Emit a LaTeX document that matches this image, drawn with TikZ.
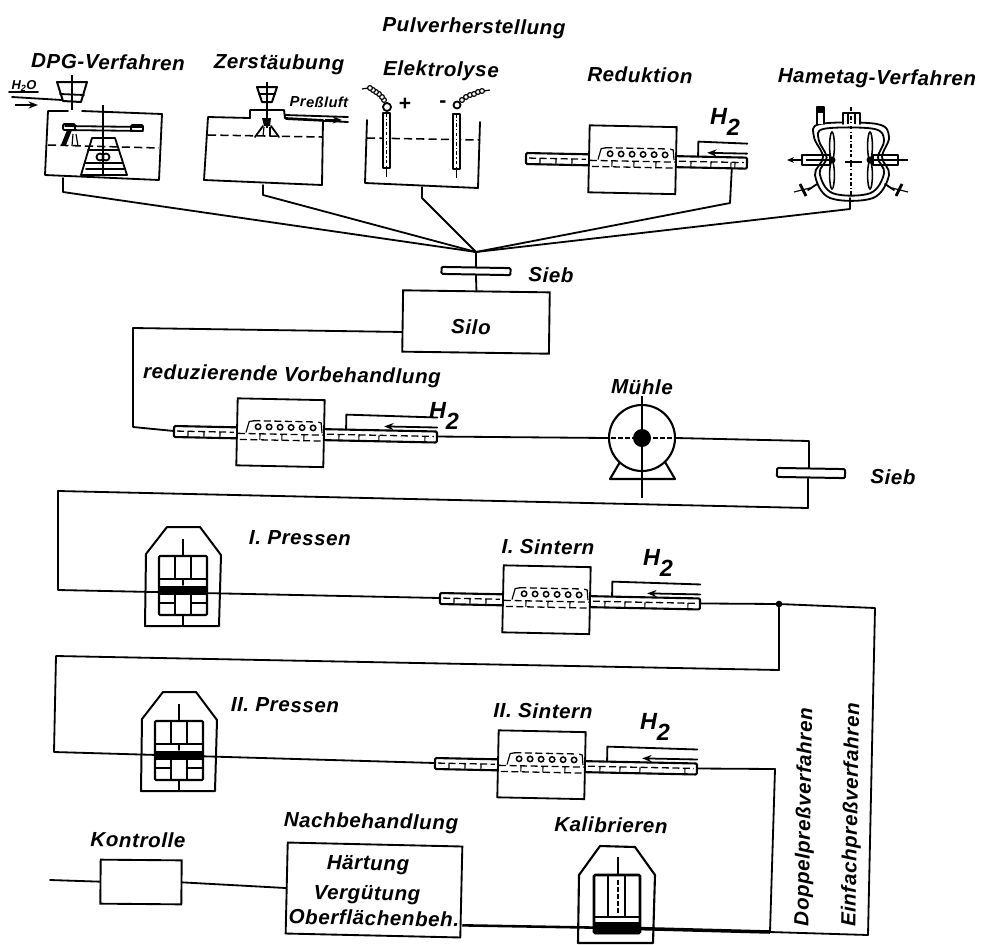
\documentclass[tikz,border=0pt]{standalone}
\usepackage{fontspec}
\setmainfont[LetterSpace=3]{Liberation Sans}
\usetikzlibrary{arrows.meta,calc}
\tikzset{
  x=0.03cm,y=-0.03cm,
  ln/.style={line width=1.55pt,line join=round,line cap=round},
  thn/.style={line width=1pt},
  dsh/.style={line width=1.3pt,dash pattern=on 7pt off 3.5pt},
  tubedash/.style={line width=1.1pt,dash pattern=on 6pt off 3pt},
  lab/.style={font=\bfseries\itshape\fontsize{17.5}{20}\selectfont,inner sep=0pt,rotate=-1},
  hlab/.style={font=\bfseries\itshape\fontsize{20}{22}\selectfont,inner sep=0pt},
  vlab/.style={font=\bfseries\itshape\fontsize{17.5}{20}\selectfont,inner sep=0pt,rotate=89},
  box/.style={draw,line width=1.55pt,inner sep=0pt,fill=white,transform shape},
  flow/.style={draw,line width=1.6pt,inner sep=0pt,fill=white},
  sieve/.style={draw,line width=1.7pt,rounded corners=1pt,inner sep=0pt,fill=white,rotate=-1},
  arr/.style={line width=1.5pt,-{Stealth[length=8pt,width=6pt]}},
}
\newcommand{\hh}{H\raisebox{-0.45em}{2}}
% name, x, y (left end of the tube), length, arrow head x, arrow tail x (local)
\newcommand{\furnace}[6]{%
\begin{scope}[shift={(#2,#3)},rotate=-1.2]
  \coordinate (#1in) at (0,0);
  \coordinate (#1out) at (#4,0);
  \coordinate (#1low) at (#4-15,6);
  \draw[ln,line width=1.8pt,rounded corners=1pt] (63,-5) -- (0,-5) -- (0,6) -- (63,6);
  \draw[ln,line width=1.8pt,rounded corners=1pt] (150,-5) -- (#4,-5) -- (#4,6) -- (150,6);
  \draw[tubedash] (3,0) -- (60,0);
  \draw[tubedash] (153,0) -- (#4-3,0);
  \foreach \t in {14,30,46} \draw[thn] (\t,0) -- (\t,6);
  \foreach \t in {165,185,205,#4-12} \draw[thn] (\t,0) -- (\t,6);
  \node[box,minimum width=2.61cm,minimum height=2.01cm] (#1box) at (106.5,-0.5) {};
  \draw[tubedash] (64,1) -- (149,1);
  \draw[tubedash] (66,7) -- (147,7);
  \draw[tubedash] (79,-12) -- (142,-12);
  \draw[thn] (72,0) -- (75,-11) -- (80,-12);
  \draw[thn] (144,-12) -- (147,-11) -- (148,-1);
  \foreach \t in {84,95,106,117,128,139} \draw[line width=1.3pt] (\t,-6) circle (2.7);
  \foreach \t in {86,108,130} \draw[thn] (\t,1) -- (\t,7);
  \draw[ln] (172,-5) -- (172,-20) -- (#4,-19);
  \draw[arr] (#6,-9) -- (#5,-9);
  \draw[ln] (#6,-9) -- (#4,-9);
\end{scope}}
% name, x, y of the top left corner of the roof
\newcommand{\pressbody}[3]{%
\begin{scope}[shift={(#2,#3)}]
  \coordinate (#1axis) at (16,0);
  \draw[ln,line width=1.7pt] (-22,99) -- (-21,27) -- (0,0) -- (33,0) -- (54,28) -- (52,99) -- cycle;
  \draw[thn] (16,12) -- (16,29);
  \draw[thn] (16,88) -- (16,99);
  \draw[ln,line width=1.8pt,rounded corners=1pt] (-8,29) rectangle (40,88);
  \draw[ln] (8,29) -- (8,52);
  \draw[ln] (24,29) -- (24,52);
  \draw[ln] (-8,52) -- (40,52);
  \draw[ln] (16,52) -- (16,58);
  \fill (-8,59) rectangle (40,68);
  \draw[ln] (8,68) -- (8,88);
  \draw[ln] (24,68) -- (24,88);
  \draw[ln] (-8,76) -- (8,76);
  \draw[ln] (24,76) -- (40,76);
\end{scope}}
\begin{document}
\begin{tikzpicture}
\useasboundingbox (0,0) rectangle (983,944);
\fill[white] (0,0) rectangle (983,944);

% ---- titles
\node[lab] (tPulver) at (474,28) {Pulverherstellung};
\node[lab] (tDPG) at (108,62) {DPG-Verfahren};
\node[lab] (tZer) at (279,64) {Zerstäubung};
\node[lab] (tEl) at (441,71) {Elektrolyse};
\node[lab] (tRed) at (640,75) {Reduktion};
\node[lab] (tHam) at (877,79) {Hametag-Verfahren};

% ---- DPG
\coordinate (dpgOut) at (63,178);
\draw[ln] (82,111) -- (162,114) -- (159,180) -- (45,175) -- (48,111) -- (68,111);
\draw[ln,line width=1.7pt] (57,82) -- (87,82) -- (81,102) -- (63,101) -- cycle;
\draw[ln] (60,94) -- (84,95);
\draw[thn] (72,75) -- (72,110);
\node[font=\bfseries\itshape\fontsize{11}{12}\selectfont,inner sep=0pt] (tH2O) at (24,86) {H\textsubscript{2}O};
\draw[ln] (9,92) -- (38,92);
\draw[ln] (12,97) -- (62,100);
\draw[arr] (15,105) -- (38,105);
\draw[dsh] (48,145) -- (159,148);
\draw[ln] (65,126) -- (143,127);
\draw[ln] (65,130) -- (143,131);
\draw[ln,rounded corners=1pt] (63,124) rectangle (75,130);
\draw[ln,rounded corners=1pt] (131,125) rectangle (143,131);
\draw[thn] (103,105) -- (103,175);
\draw[line width=2.4pt] (103,127) -- (103,175);
\draw[ln] (92,138) -- (115,138) -- (127,175) -- (81,175) -- cycle;
\draw[ln] (88,150) -- (119,150);
\draw[ln] (85,163) -- (123,163);
\draw[ln] (86,169) -- (124,169);
\draw[ln] (100,157) circle (3.5);
\draw[ln] (106,157) circle (3.5);
\fill (67,130) -- (72,130) -- (66,145) -- (61,145) -- cycle;
\draw[thn] (73,134) -- (72,146);
\draw[thn] (76,134) -- (78,146);

% ---- Zerstaeubung
\coordinate (zerOut) at (263,185);
\draw[ln] (250,118) -- (208,117) -- (204,180) -- (322,185) -- (323,120) -- (285,118);
\draw[ln,line width=1.6pt] (250,118) -- (250,110) -- (284,110) -- (285,118);
\draw[ln,line width=1.7pt] (257,87) -- (277,87) -- (272,102) -- (262,102) -- cycle;
\draw[ln] (259,94) -- (275,94);
\draw[thn] (267,82) -- (267,128);
\draw[ln] (285,115) -- (348,117);
\draw[ln] (286,119) -- (348,122);
\draw[arr] (325,120) -- (342,120);
\node[font=\bfseries\itshape\fontsize{12.5}{14}\selectfont,inner sep=0pt,rotate=-1] (tLuft) at (319,102) {Preßluft};
\draw[dsh] (208,135) -- (322,137);
\fill (262,118) -- (271,118) -- (270,126) -- (264,126) -- cycle;
\draw[ln] (263,126) -- (255,137);
\draw[ln] (271,126) -- (279,137);
\draw[thn] (264,127) -- (263,136);
\draw[thn] (270,127) -- (270,136);

% ---- Elektrolyse
\coordinate (elOut) at (422,187);
\draw[ln] (367,120) -- (365,183) -- (478,188) -- (480,122);
\draw[dsh] (367,138) -- (480,140);
\foreach \ex/\ey in {383/113,453/114} {
  \draw[ln,fill=white] (\ex,\ey) rectangle (\ex+7,\ey+55);
  \draw[thn,dash dot] (\ex+3.5,\ey) -- (\ex+3.5,\ey+55);
  \draw[thn] (\ex+3.5,\ey+55) -- (\ex+3.5,\ey+64);
}
\draw[ln] (387,107) circle (4);
\draw[ln] (457,105) circle (3.5);
\foreach \cx/\cy in {384/100,382/97,379/94,376/92,373/90,370/88} \draw[thn,fill=white] (\cx,\cy) circle (2.4);
\draw[thn] (368,88) -- (362,89);
\foreach \cx/\cy in {462/100,466/97,470/95,474/94,478/92,482/91} \draw[thn,fill=white] (\cx,\cy) circle (2.4);
\draw[thn] (484,91) -- (490,90);
\node[font=\bfseries\fontsize{18}{20}\selectfont,inner sep=0pt] (tPlus) at (405,104) {+};
\node[font=\bfseries\fontsize{18}{20}\selectfont,inner sep=0pt] (tMinus) at (443,104) {-};

% ---- Reduktion furnace
\furnace{red}{526}{158}{221}{181}{204}
\node[hlab] (tRedH) at (725,122) {\hh};

% ---- Hametag
\coordinate (hamOut) at (850,198);
\foreach \s in {1,0.87} {
\begin{scope}[shift={(851,161)},scale=\s]
\draw[ln,fill=white] plot[smooth cycle,tension=0.6] coordinates {(-31,-37) (-37,-24) (-28,-4) (-36,14) (-21,37) (22,37) (38,14) (31,-4) (38,-24) (26,-37)};
\end{scope}}
\draw[ln,fill=white] (843,124) -- (843,113) -- (860,113) -- (860,124);
\draw[thn] (848,113) -- (848,124);
\draw[thn] (855,113) -- (855,124);
\draw[ln,fill=white] (817,124) -- (817,107) -- (824,107) -- (824,124);
\fill (818,107) rectangle (823,113);
\draw[thn,dash dot] (851,107) -- (851,196);
\draw[thn] (845,162) -- (862,162);
\foreach \ex in {832,870} {
  \draw[line width=1.3pt] (\ex,146) ellipse (2.4 and 14);
  \draw[line width=1.3pt] (\ex,175) ellipse (2.4 and 14);
  \fill (\ex,160) circle (3.5);
}
\draw[ln] (802,155) rectangle (830,165);
\draw[line width=2.2pt,-{Stealth[length=6pt,width=5pt]}] (802,160) -- (787,160);
\draw[line width=1.6pt] (806,160) -- (830,160);
\draw[ln] (873,155) rectangle (898,165);
\draw[line width=1.6pt] (898,160) -- (908,160);
\draw[line width=1.6pt] (873,160) -- (898,160);
\draw[ln] (817,184) -- (808,190);
\draw[line width=2.4pt] (800,184) -- (806,196);
\draw[thn] (794,192) -- (810,188);
\draw[ln] (885,184) -- (894,190);
\draw[line width=2.4pt] (902,184) -- (896,196);
\draw[thn] (892,188) -- (908,192);

% ---- collecting point, sieve, silo
\coordinate (coll) at (476,252);
\draw[ln] (dpgOut) -- (63,192) -- (coll);
\draw[ln] (zerOut) -- (263,195) -- (coll);
\draw[ln] (elOut) -- (422,198) -- (coll);
\draw[ln] (redlow) -- (730,203) -- (coll);
\draw[ln] (hamOut) -- (850,209) -- (coll);
\node[sieve,minimum width=2.07cm,minimum height=0.21cm] (sieb1) at (476,271) {};
\node[lab] (tSieb1) at (551,275) {Sieb};
\node[flow,minimum width=4.4cm,minimum height=1.84cm,rotate=-0.8] (silo) at (476,322) {};
\node[lab] (tSilo) at (471,327) {Silo};
\draw[ln] (coll) -- (sieb1.north);
\draw[ln] (sieb1.south) -- (silo.north);

% ---- reducing pre-treatment
\node[lab] (tVor) at (292,376) {reduzierende Vorbehandlung};
\furnace{vor}{174}{431}{263}{210}{237}
\node[hlab] (tVorH) at (444,416) {\hh};
\draw[ln] ([yshift=-0.33cm]silo.west) -- (133,328) -- (133,427) -- (vorin);

% ---- mill
\node[lab] (tMuehle) at (642,387) {Mühle};
\coordinate (millc) at (642,438);
\draw[ln,line width=1.8pt] (620,462) -- (610,479) -- (675,479) -- (665,462);
\node[circle,draw,line width=1.8pt,minimum size=1.98cm,inner sep=0pt,fill=white] (mill) at (millc) {};
\fill (millc) circle (9);
\draw[thn] (642,396) -- (642,498);
\draw[thn,dash pattern=on 4pt off 2pt] (611,438) -- (674,438);
\draw[ln] (vorout) -- (mill.west);
\node[sieve,minimum width=2.04cm,minimum height=0.27cm] (sieb2) at (811,473) {};
\coordinate (turnA) at (809,441);
\coordinate (turnB) at (808,508);
\draw[ln] (mill.east) -- (turnA) -- (turnA |- sieb2.north);
\node[lab] (tSieb2) at (893,477) {Sieb};

% ---- I. Pressen
\pressbody{pa}{167}{527}
\node[lab] (tPa) at (300,538) {I. Pressen};
\node[lab] (tSa) at (548,547) {I. Sintern};
\furnace{sa}{440}{598}{260}{207}{243}
\node[hlab] (tSaH) at (658,563) {\hh};
\draw[ln] (turnB |- sieb2.south) -- (turnB) -- (58,491) -- (58,590) -- (sain);

% ---- junction and the two routes
\node[circle,fill,inner sep=0pt,minimum size=0.2cm] (junc) at (779,604) {};
\draw[ln] (saout) -- (junc) -- (875,608) -- (868,935) -- (770,932);

% ---- II. Pressen
\pressbody{pb}{163}{692}
\node[lab] (tPb) at (285,705) {II. Pressen};
\node[lab] (tSb) at (543,711) {II. Sintern};
\furnace{sb}{435}{763}{262}{207}{248}
\node[hlab] (tSbH) at (655,727) {\hh};
\draw[ln] (junc) -- (779,670) -- (56,656) -- (54,752) -- (sbin);
\draw[ln] (sbout) -- (775,769) -- (770,932);

\node[vlab] (tDop) at (805,817) {Doppelpreßverfahren};
\node[vlab] (tEin) at (852,815) {Einfachpreßverfahren};

% ---- Kalibrieren
\node[lab] (tKal) at (611,825) {Kalibrieren};
\coordinate (kalc) at (617,928);
\draw[ln,line width=1.8pt] (578,943) -- (579,875) -- (600,846) -- (635,847) -- (655,875) -- (653,943) -- cycle;
\draw[line width=2.2pt,rounded corners=1pt] (594,875) rectangle (640,933);
\draw[line width=2.2pt] (608,875) -- (608,918);
\draw[line width=2.2pt] (625,875) -- (625,918);
\draw[line width=1.8pt] (618,857) -- (618,875);
\draw[thn,dash pattern=on 4pt off 2pt] (618,880) -- (618,915);
\fill[rounded corners=1pt] (594,922) rectangle (640,934);
\draw[ln] (594,917) -- (640,917);

% ---- Kontrolle and Nachbehandlung
\node[lab] (tKon) at (138,840) {Kontrolle};
\node[flow,minimum width=2.43cm,minimum height=1.32cm,rotate=-0.5] (kon) at (141,882) {};
\node[lab] (tNach) at (371,823) {Nachbehandlung};
\node[flow,minimum width=5.24cm,minimum height=2.73cm,rotate=-1.3] (nach) at (374,890) {};
\node[lab] (tHa) at (368,865) {Härtung};
\node[lab] (tVe) at (367,895) {Vergütung};
\node[lab] (tOb) at (374,918) {Oberflächenbeh.};
\coordinate (lineend) at (50,880);
\draw[ln] (lineend) -- (kon.west);
\draw[ln] (kon.east) -- (nach.west);
\draw[line width=2.2pt] ([yshift=-1cm]nach.east) -- (kalc);
\draw[line width=3pt] (kalc) -- (770,932);
\end{tikzpicture}
\end{document}
